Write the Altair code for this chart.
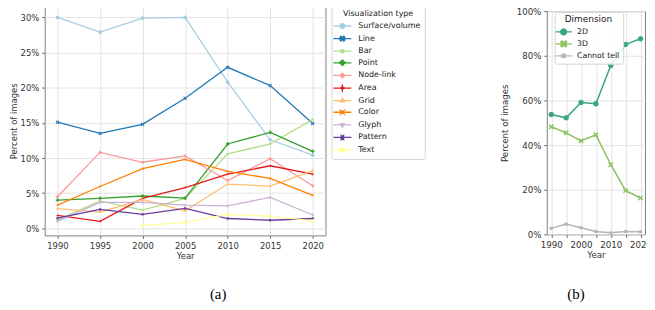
import math
import altair as alt
import pandas as pd

# ---------------- data ----------------
years = [1990, 1995, 2000, 2005, 2010, 2015, 2020]

vis_types = ["Surface/volume", "Line", "Bar", "Point", "Node-link", "Area",
             "Grid", "Color", "Glyph", "Pattern", "Text"]
surface_volume = [30.0, 27.9, 29.9, 30.0, 20.8, 12.6, 10.4]
line_vals = [15.1, 13.5, 14.8, 18.5, 22.9, 20.3, 14.9]
bar_vals = [1.2, 3.9, 2.6, 4.25, 10.6, 12.0, 15.5]
point_vals = [4.0, 4.25, 4.6, 4.3, 12.0, 13.65, 10.95]
node_link = [4.5, 10.8, 9.4, 10.3, 6.8, 9.9, 6.05]
area_vals = [1.85, 1.0, 4.25, 5.8, 7.7, 8.9, 7.7]
grid_vals = [2.8, 2.3, 4.1, 2.5, 6.3, 6.0, 8.2]
color_vals = [3.3, 5.95, 8.5, 9.8, 8.1, 7.1, 4.7]
glyph_vals = [1.0, 3.7, 3.7, 3.3, 3.2, 4.4, 1.9]
pattern_vals = [1.45, 2.7, 2.0, 2.85, 1.4, 1.15, 1.4]
text_vals = [None, None, 0.4, 0.85, 2.0, 1.75, 1.05]
vis_series = [surface_volume, line_vals, bar_vals, point_vals, node_link, area_vals,
              grid_vals, color_vals, glyph_vals, pattern_vals, text_vals]

dimensions = ["2D", "3D", "Cannot tell"]
dim_2d = [53.7, 52.2, 59.1, 58.5, 75.7, 85.1, 87.6]
dim_3d = [48.2, 45.5, 41.9, 44.6, 31.2, 19.6, 16.3]
dim_cannot = [2.7, 4.6, 3.0, 1.3, 0.7, 1.3, 1.2]
dim_series = [dim_2d, dim_3d, dim_cannot]

vis_colors = ["#a6cee3", "#1f78b4", "#b2df8a", "#33a02c", "#fb9a99", "#e31a1c",
              "#fdbf6f", "#ff7f00", "#cab2d6", "#6a3d9a", "#ffff99"]
dim_colors = ["#3aa57e", "#8fc160", "#b5b5b5"]


def long_frame(names, series):
    rows = []
    for name, vals in zip(names, series):
        for yr, v in zip(years, vals):
            if v is not None:
                rows.append({"year": yr, "type": name, "share": v / 100.0})
    return pd.DataFrame(rows)


vis_df = long_frame(vis_types, vis_series)
dim_df = long_frame(dimensions, dim_series)


# ---------------- marker shapes (seaborn style) ----------------
def poly(n, rot):
    return [(math.cos(math.radians(90 + rot + k * 360 / n)),
             -math.sin(math.radians(90 + rot + k * 360 / n))) for k in range(n)]


def star(n, inner, rot):
    pts = []
    for k in range(2 * n):
        r = 1.0 if k % 2 == 0 else inner
        a = math.radians(90 + rot + k * 180 / n)
        pts.append((r * math.cos(a), -r * math.sin(a)))
    return pts


X_PTS = [(-1, -0.6), (-0.6, -1), (0, -0.4), (0.6, -1), (1, -0.6), (0.4, 0),
         (1, 0.6), (0.6, 1), (0, 0.4), (-0.6, 1), (-1, 0.6), (-0.4, 0)]
P_PTS = [(-0.35, -1), (0.35, -1), (0.35, -0.35), (1, -0.35), (1, 0.35), (0.35, 0.35),
         (0.35, 1), (-0.35, 1), (-0.35, 0.35), (-1, 0.35), (-1, -0.35), (-0.35, -0.35)]

marker_pts = [poly(16, 0), X_PTS, [(x * 0.8, y * 0.8) for x, y in poly(4, 45)], P_PTS,
              poly(4, 0), star(4, 0.3, 0), poly(3, 0), star(4, 0.3, 45), poly(3, 180),
              star(6, 0.5, 30), poly(6, 30)]


def path(pts, s=1.0, line=None):
    p = "M" + "L".join(f"{x * s:.3f},{y * s:.3f}" for x, y in pts) + "Z"
    if line:
        p = f"M{-line},0L{line},0" + p
    return p


vis_plot_shapes = [path(p) for p in marker_pts]
vis_legend_shapes = [path(p, 0.4, 1.5) for p in marker_pts]
dim_pts = [marker_pts[0], marker_pts[1], marker_pts[2]]
dim_plot_shapes = [path(p) for p in dim_pts]
dim_legend_shapes = [path(p, 0.6, 1.65) for p in dim_pts]

FONT = "DejaVu Sans"


def panel(df, names, colors, plot_shapes, legend_shapes, ydom, yvals, width, height,
          xvals, xlabel_expr, fs, lw, msize, legend, caption, cap_dx, cap_offset, ytpad):
    x = alt.X("year:Q", scale=alt.Scale(domain=[1988.5, 2021.5], nice=False, zero=False),
              axis=alt.Axis(values=xvals, format="d", title="Year", labelExpr=xlabel_expr,
                            labelFontSize=fs, titleFontSize=fs))
    y = alt.Y("share:Q", scale=alt.Scale(domain=ydom, nice=False, zero=False),
              axis=alt.Axis(values=yvals, format=".0%", title="Percent of images",
                            labelFontSize=fs, titleFontSize=fs, titlePadding=ytpad))
    cscale = alt.Scale(domain=names, range=colors)
    lines = alt.Chart(df).mark_line(strokeWidth=lw).encode(
        x=x, y=y, color=alt.Color("type:N", scale=cscale, legend=None))
    pts = alt.Chart(df).mark_point(filled=True, opacity=1, size=msize).encode(
        x=x, y=y,
        color=alt.Color("type:N", scale=cscale, legend=None),
        shape=alt.Shape("type:N", scale=alt.Scale(domain=names, range=plot_shapes), legend=None))
    leg = alt.Chart(df).transform_filter("datum.year < 0").mark_point(
        filled=True, opacity=1, strokeWidth=1.3).encode(
        x=x, y=y,
        fill=alt.Fill("type:N", scale=alt.Scale(domain=names, range=colors), legend=legend),
        stroke=alt.Stroke("type:N", scale=alt.Scale(domain=names, range=colors), legend=legend),
        shape=alt.Shape("type:N", scale=alt.Scale(domain=names, range=legend_shapes), legend=legend))
    return alt.layer(lines, pts, leg).resolve_scale(
        shape="independent", fill="independent", stroke="independent").properties(
        width=width, height=height,
        title=alt.TitleParams(caption, orient="bottom", anchor="middle", frame="bounds",
                              font="Liberation Serif", fontSize=15, fontWeight="normal",
                              color="#000", offset=cap_offset, dx=cap_dx))


vis_legend = alt.Legend(title="Visualization type", orient="right", offset=6, padding=4,
                        fillColor="white", strokeColor="#d6d6d6", cornerRadius=2,
                        titleAnchor="middle", titleFontSize=8, titleFontWeight="normal",
                        titleFont=FONT, labelFont=FONT, labelFontSize=8, symbolSize=144,
                        symbolStrokeWidth=1.3, rowPadding=0.7, labelOffset=9, titlePadding=1,
                        labelColor="#222", titleColor="#222")
dim_legend = alt.Legend(title="Dimension", orient="none", legendX=8, legendY=1, padding=3,
                        fillColor="rgba(255,255,255,0.85)", strokeColor="#d6d6d6",
                        cornerRadius=2, titleAnchor="middle", titleFontSize=9,
                        titleFontWeight="normal", titleFont=FONT, labelFont=FONT,
                        labelFontSize=7.8, symbolSize=100, symbolStrokeWidth=1.3,
                        rowPadding=-2, labelOffset=7.5, titlePadding=2,
                        labelColor="#222", titleColor="#222")

left = panel(vis_df, vis_types, vis_colors, vis_plot_shapes, vis_legend_shapes,
             [-0.01, 0.316], [0, 0.05, 0.10, 0.15, 0.20, 0.25, 0.30], 283, 231,
             years, "datum.label", 8.5, 1.3, 14, vis_legend, "(a)", 1, 27, 2)
right = panel(dim_df, dimensions, dim_colors, dim_plot_shapes, dim_legend_shapes,
              [0, 1], [0, 0.2, 0.4, 0.6, 0.8, 1.0], 99, 225,
              years, "datum.value % 10 == 0 ? datum.label : ''", 8.7, 1.5, 30, dim_legend,
              "(b)", 0, 28, 7)

spacer = alt.Chart(pd.DataFrame({"v": [0]})).mark_point(size=0, opacity=0).encode(
    x=alt.value(0), y=alt.value(0)
).properties(width=99, height=1, view=alt.ViewBackground(stroke="transparent"))

right_col = alt.vconcat(spacer, right, spacing=-2)

chart = alt.hconcat(left, right_col, spacing=74).resolve_scale(
    color="independent", fill="independent", stroke="independent", shape="independent"
).properties(
    padding={"left": 0, "top": -4, "right": -6, "bottom": 0}
).configure(font=FONT, background="white").configure_view(
    stroke="#808080", strokeWidth=1
).configure_axis(
    labelFont=FONT, titleFont=FONT, titleFontWeight="normal", labelColor="#333",
    titleColor="#333", gridColor="#e3e3e3", gridWidth=1, tickColor="#666", tickSize=3,
    labelPadding=3, titlePadding=2, domain=False
).configure_legend(titleFontWeight="normal")

chart.save("out.html", embed_options={"renderer": "svg", "actions": False})
